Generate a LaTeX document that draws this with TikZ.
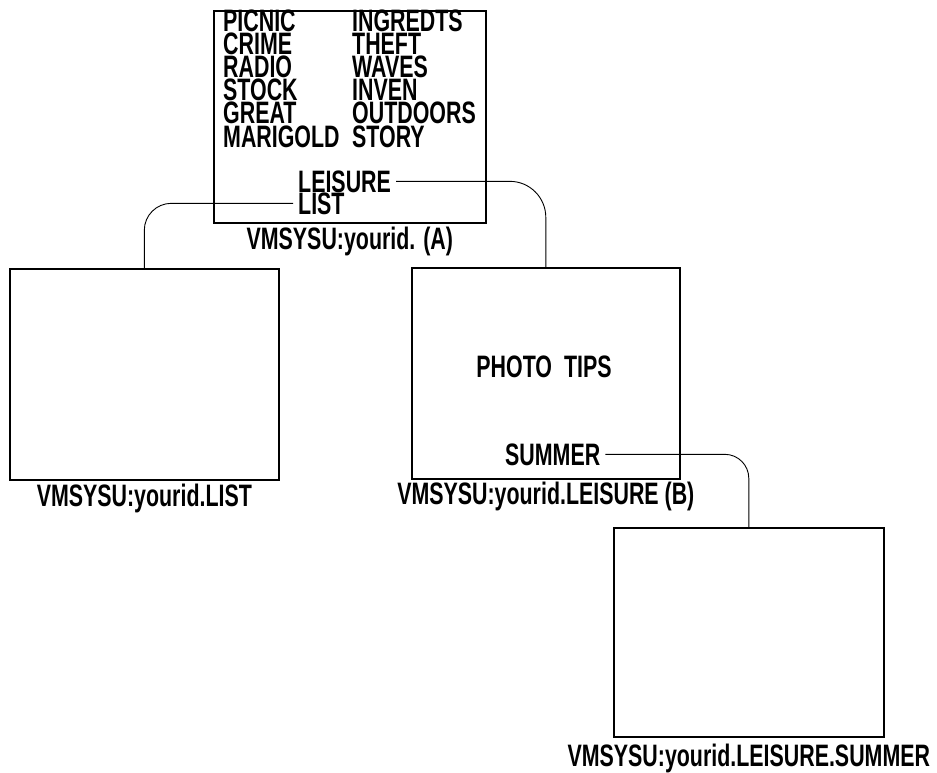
\documentclass[tikz,border=0pt]{standalone}
\usepackage{fontspec}
\setmainfont{Liberation Sans}[FakeStretch=0.69]
\usetikzlibrary{positioning}

\begin{document}
\begin{tikzpicture}[x=1pt, y=-1pt,
    panel/.style={draw, line width=1.6pt, inner sep=0pt, anchor=north west},
    lbl/.style={font=\fontsize{31}{31}\selectfont\bfseries, inner sep=0pt},
    link/.style={draw, line width=0.9pt}]
  \useasboundingbox (0,0) rectangle (937,773);
  % directories
  \node[panel, minimum width=272pt, minimum height=212pt] (dirA) at (213,10) {};
  \node[panel, minimum width=269pt, minimum height=211pt] (dirL) at (9,268) {};
  \node[panel, minimum width=268pt, minimum height=211pt] (dirB) at (411,267) {};
  \node[panel, minimum width=270pt, minimum height=209pt] (dirC) at (613,527) {};
  % files in A
  \foreach \f/\t [count=\i] in {PICNIC/INGREDTS, CRIME/THEFT, RADIO/WAVES,
      STOCK/INVEN, GREAT/OUTDOORS, MARIGOLD/STORY} {
    \node[lbl, anchor=base west] (fn\i) at (223, 9+23*\i) {\f};
    \node[lbl, anchor=base west] (ft\i) at (352, 9+23*\i) {\t};
  }
  \node[lbl, anchor=base west, inner xsep=5pt] (leisure) at (293,192) {LEISURE};
  \node[lbl, anchor=base west, inner xsep=5pt] (list) at (293,214) {LIST};
  \node[lbl, below=3pt of dirA] (capA) {VMSYSU:yourid. (A)};
  % files in B
  \node[lbl, anchor=base] (photo) at (544,377) {PHOTO\ \ TIPS};
  \node[lbl, anchor=base west, inner xsep=5pt] (summer) at (500,465) {SUMMER};
  \node[lbl, below=2pt of dirB] (capB) {VMSYSU:yourid.LEISURE (B)};
  \node[lbl, below=3pt of dirL] (capL) {VMSYSU:yourid.LIST};
  \node[lbl, below=6pt of dirC] (capC) {VMSYSU:yourid.LEISURE.SUMMER};
  % links
  \draw[link, rounded corners=36pt] (leisure.east) -| (dirB.north);
  \draw[link, rounded corners=27pt] (list.west) -| (dirL.north);
  \draw[link, rounded corners=24pt] (summer.east) -| (dirC.north);
\end{tikzpicture}
\end{document}
